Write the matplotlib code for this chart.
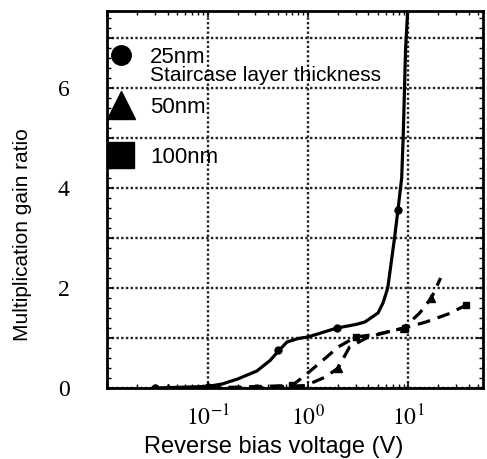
import math
import matplotlib
matplotlib.use('Agg')
from matplotlib import pyplot as plt
from matplotlib.lines import Line2D
from matplotlib.ticker import MultipleLocator, LogLocator, FuncFormatter, NullFormatter

# 25nm staircase layer: smooth curve and measured points
v25_line = [0.03, 0.1, 0.14, 0.2, 0.31, 0.42, 0.52, 0.62, 0.8, 1.0, 1.95, 3.0, 3.7,
            5.0, 5.6, 6.25, 7.3, 7.9, 8.6, 8.9, 9.4, 9.9]
g25_line = [0.0, 0.03, 0.08, 0.18, 0.34, 0.55, 0.76, 0.92, 0.99, 1.02, 1.2, 1.27, 1.32,
            1.5, 1.7, 2.0, 3.0, 3.56, 4.2, 5.0, 6.76, 7.6]
v25_pts = [0.03, 0.1, 0.5, 1.95, 7.9]
g25_pts = [0.0, 0.02, 0.76, 1.2, 3.56]

# 50nm
v50_line = [0.04, 0.31, 0.95, 1.5, 2.0, 2.6, 4.0, 9.0, 13.0, 17.0, 21.0]
g50_line = [0.0, 0.0, 0.05, 0.22, 0.4, 0.82, 1.02, 1.2, 1.5, 1.8, 2.2]
v50_pts = [0.04, 0.31, 2.0, 9.0, 17.0]
g50_pts = [0.0, 0.0, 0.4, 1.2, 1.8]

# 100nm
v100_line = [0.1, 0.7, 1.0, 1.5, 2.0, 3.0, 5.0, 9.2, 15.0, 25.0, 38.0]
g100_line = [0.0, 0.05, 0.3, 0.6, 0.82, 1.02, 1.08, 1.2, 1.32, 1.48, 1.66]
v100_pts = [0.1, 0.7, 3.0, 9.2, 38.0]
g100_pts = [0.0, 0.05, 1.02, 1.2, 1.66]

legend_labels = ['25nm', '50nm', '100nm']


def main():
    plt.rcParams['mathtext.fontset'] = 'stix'
    plt.rcParams['font.family'] = ['Liberation Sans', 'DejaVu Sans']

    fig = plt.figure(figsize=(4.87, 4.59), dpi=100)
    ax = fig.add_axes([0.22, 0.1547, 0.772, 0.8213])

    dash = (0, (4, 2.5))
    ax.plot(v25_line, g25_line, color='k', lw=2.3, solid_capstyle='round')
    ax.plot(v25_pts, g25_pts, 'o', color='k', ms=5)
    ax.plot(v50_line, g50_line, color='k', lw=2.3, linestyle=dash)
    ax.plot(v50_pts, g50_pts, '^', color='k', ms=6)
    ax.plot(v100_line, g100_line, color='k', lw=2.3, linestyle=dash)
    ax.plot(v100_pts, g100_pts, 's', color='k', ms=5)

    ax.set_xscale('log')
    ax.set_xlim(0.01, 55.7)
    ax.set_ylim(0, 7.54)

    ax.xaxis.set_major_locator(LogLocator(base=10, numticks=10))
    ax.xaxis.set_minor_locator(LogLocator(base=10, subs=range(2, 10), numticks=20))
    ax.xaxis.set_minor_formatter(NullFormatter())
    ax.xaxis.set_major_formatter(FuncFormatter(
        lambda v, p: r'$10^{%d}$' % round(math.log10(v)) if 0.05 < v < 20 else ''))
    ax.yaxis.set_major_locator(MultipleLocator(1))
    ax.yaxis.set_minor_locator(MultipleLocator(0.2))
    ax.yaxis.set_major_formatter(FuncFormatter(
        lambda v, p: '%d' % v if round(v) % 2 == 0 else ''))

    ax.grid(True, which='major', color='#222222', linestyle=(0, (1, 1)), lw=1.7)
    ax.tick_params(which='both', direction='in', top=True, right=True, color='k')
    ax.tick_params(which='major', length=4, width=1.2)
    ax.tick_params(which='minor', length=3, width=1.0)
    ax.tick_params(axis='x', which='major', pad=12, labelsize=17)
    ax.tick_params(axis='y', which='major', pad=27, labelsize=17)
    for lab in ax.get_xticklabels() + ax.get_yticklabels():
        lab.set_family('Liberation Serif')
    for sp in ax.spines.values():
        sp.set_linewidth(2)

    ax.set_xlabel('Reverse bias voltage (V)', fontsize=17)
    ax.xaxis.set_label_coords(0.444, -0.128)
    ax.set_ylabel('Multiplication gain ratio', fontsize=15)
    ax.yaxis.set_label_coords(-0.2, 0.406)

    handles = [
        Line2D([], [], marker='o', ms=14, color='k', ls='none'),
        Line2D([], [], marker='^', ms=20, color='k', ls='none'),
        Line2D([], [], marker='s', ms=19, color='k', ls='none'),
    ]
    ax.legend(handles, legend_labels, loc='upper left', bbox_to_anchor=(0.008, 0.905),
              frameon=False, fontsize=16, labelspacing=1.3, handlelength=1.0,
              handletextpad=0.8, borderaxespad=0.0, borderpad=0.0)
    ax.text(0.114, 0.829, 'Staircase layer thickness', transform=ax.transAxes,
            fontsize=15, va='center', ha='left')

    plt.savefig('out.png', dpi=100)


if __name__ == "__main__":
    main()
